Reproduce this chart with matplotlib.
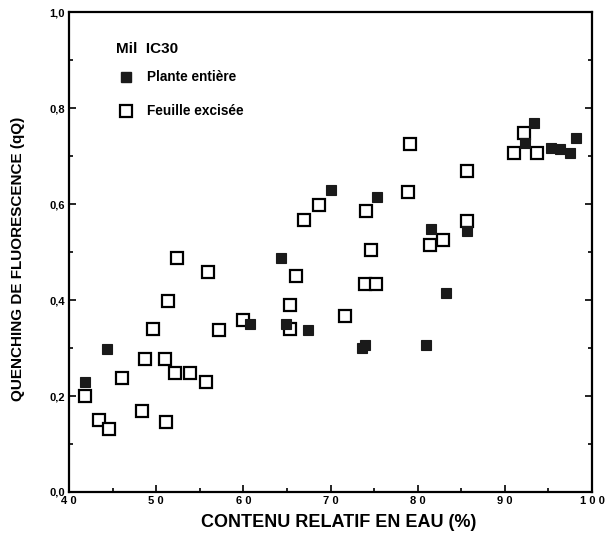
import matplotlib
matplotlib.use("Agg")
import matplotlib.pyplot as plt
from matplotlib.ticker import MultipleLocator

# Data
plante_x = [41.8, 44.4, 60.7, 64.3, 64.9, 67.4, 70.1, 73.6, 74.0, 75.3,
            80.9, 81.5, 83.3, 85.7, 92.3, 93.3, 95.3, 96.3, 97.5, 98.2]
plante_y = [0.230, 0.298, 0.351, 0.488, 0.351, 0.338, 0.629, 0.300, 0.306, 0.615,
            0.306, 0.547, 0.415, 0.544, 0.727, 0.769, 0.717, 0.715, 0.706, 0.738]
feuille_x = [41.8, 43.4, 44.6, 46.1, 48.4, 48.7, 49.6, 51.0, 51.1, 51.4,
             52.1, 52.4, 53.9, 55.7, 55.9, 57.2, 59.9, 65.4, 65.4, 66.0,
             67.0, 68.7, 71.7, 73.9, 74.1, 74.6, 75.2, 78.9, 79.1, 81.4,
             82.9, 85.6, 85.7, 91.0, 92.2, 93.7]
feuille_y = [0.199, 0.149, 0.131, 0.238, 0.169, 0.277, 0.339, 0.277, 0.146, 0.398,
             0.247, 0.488, 0.247, 0.229, 0.458, 0.338, 0.358, 0.390, 0.339, 0.450,
             0.567, 0.597, 0.366, 0.433, 0.586, 0.505, 0.433, 0.625, 0.725, 0.515,
             0.526, 0.564, 0.668, 0.706, 0.748, 0.706]
x_ticks = [40, 50, 60, 70, 80, 90, 100]
x_labels = ["4 0", "5 0", "6 0", "7 0", "8 0", "9 0", "1 0 0"]
y_ticks = [0.0, 0.2, 0.4, 0.6, 0.8, 1.0]
y_labels = ["0,0", "0,2", "0,4", "0,6", "0,8", "1,0"]

plt.rcParams['font.family'] = ['Liberation Sans', 'DejaVu Sans']

fig = plt.figure(figsize=(6.06, 5.39), dpi=100)
ax = fig.add_axes([0.114, 0.0872, 0.863, 0.8905])

ax.plot(feuille_x, feuille_y, 's', ms=9, mfc='white', mec='black', mew=1.6, ls='none', zorder=3)
ax.plot(plante_x, plante_y, 's', ms=7.2, mfc='#1a1a1a', mec='#1a1a1a', mew=0.8, ls='none', zorder=4)

ax.set_xlim(40, 100)
ax.set_ylim(0, 1.0)
ax.set_xticks(x_ticks)
ax.set_xticklabels(x_labels, fontsize=8, fontweight='bold')
ax.set_yticks(y_ticks)
ax.set_yticklabels(y_labels, fontsize=8, fontweight='bold')
ax.xaxis.set_minor_locator(MultipleLocator(5))
ax.yaxis.set_minor_locator(MultipleLocator(0.1))
ax.tick_params(which='both', direction='in', top=False, right=True, width=1.2)
ax.tick_params(which='major', length=5, pad=3)
ax.tick_params(which='minor', length=3)
for s in ax.spines.values():
    s.set_linewidth(1.6)

ax.set_xlabel("CONTENU RELATIF EN EAU (%)", fontsize=13, fontweight='bold', labelpad=4)
ax.xaxis.set_label_coords(0.515, -0.045, transform=ax.transAxes)
ax.xaxis.label.set_va('top')
ax.set_ylabel("QUENCHING DE FLUORESCENCE (qQ)", fontsize=11, fontweight='bold', labelpad=14)
ax.yaxis.set_label_coords(-0.085, 0.485, transform=ax.transAxes)

# legend-like annotations
ax.text(45.4, 0.922, "Mil  IC30", fontsize=11, fontweight='bold', va='center', ha='left')
ax.plot([46.5], [0.864], 's', ms=7.2, mfc='#1a1a1a', mec='#1a1a1a', ls='none')
ax.text(48.9, 0.864, "Plante entière", fontsize=9.8, fontweight='bold', va='center', ha='left')
ax.plot([46.5], [0.794], 's', ms=8, mfc='white', mec='black', mew=1.6, ls='none')
ax.text(48.9, 0.794, "Feuille excisée", fontsize=9.8, fontweight='bold', va='center', ha='left')

fig.savefig("out.png", dpi=100)
